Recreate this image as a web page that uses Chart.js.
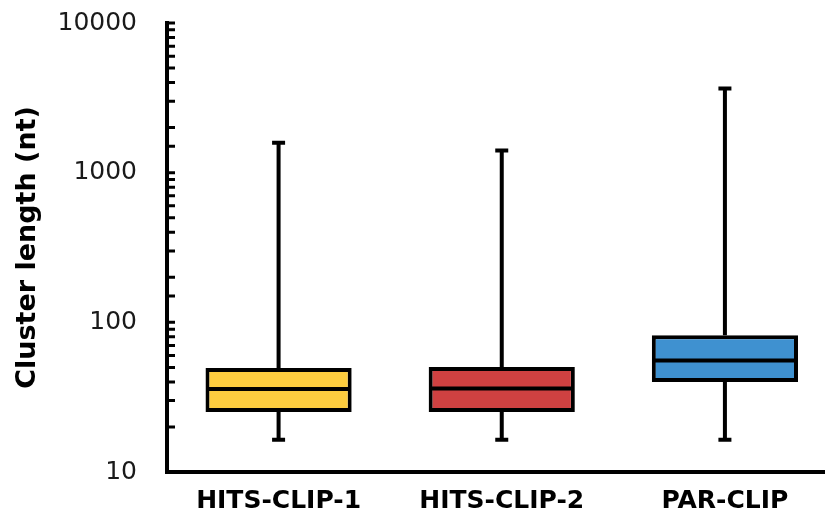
<!DOCTYPE html>
<html>
<head>
<meta charset="utf-8">
<script src="https://cdn.jsdelivr.net/npm/chart.js@4.4.1/dist/chart.umd.min.js"></script>
<style>
  html, body { margin: 0; padding: 0; background: #fff; overflow: hidden; }
  #wrap { width: 840px; height: 525px; }
</style>
</head>
<body>
<div id="wrap"><canvas id="chart" width="840" height="525"></canvas></div>
<script>
// box plot values (nt)
var categories = ['HITS-CLIP-1', 'HITS-CLIP-2', 'PAR-CLIP'];
var whiskerMin = [16.4, 16.4, 16.4];
var quartile1 = [25.2, 25.2, 40];
var medians = [35.8, 36.1, 55.5];
var quartile3 = [49.5, 50.3, 82];
var whiskerMax = [1585, 1405, 3650];
var boxColors = ['#FDCD3F', '#CF4141', '#3F91D0'];
var yTickLabels = [10, 100, 1000, 10000];

var LINE = 4;

// whiskers, caps, medians and inward axis ticks
var boxExtras = {
  id: 'boxExtras',
  afterDatasetsDraw: function (chart) {
    var ctx = chart.ctx;
    var x = chart.scales.x;
    var y = chart.scales.y;
    var meta = chart.getDatasetMeta(0);
    ctx.save();
    ctx.strokeStyle = '#000';
    ctx.lineWidth = LINE;
    ctx.lineCap = 'butt';
    for (var i = 0; i < categories.length; i++) {
      var bar = meta.data[i];
      var cx = x.getPixelForValue(i);
      var half = bar.width / 2;
      var capHalf = 6.5;
      var yMin = y.getPixelForValue(whiskerMin[i]);
      var yMax = y.getPixelForValue(whiskerMax[i]);
      var yQ1 = y.getPixelForValue(quartile1[i]);
      var yQ3 = y.getPixelForValue(quartile3[i]);
      var yMed = y.getPixelForValue(medians[i]);
      ctx.beginPath();
      ctx.moveTo(cx, yQ3); ctx.lineTo(cx, yMax);
      ctx.moveTo(cx, yQ1); ctx.lineTo(cx, yMin);
      ctx.moveTo(cx - capHalf, yMax); ctx.lineTo(cx + capHalf, yMax);
      ctx.moveTo(cx - capHalf, yMin); ctx.lineTo(cx + capHalf, yMin);
      ctx.moveTo(cx - half + 1, yMed); ctx.lineTo(cx + half - 1, yMed);
      ctx.stroke();
    }
    // ticks pointing into the plot
    var left = chart.chartArea.left;
    ctx.lineWidth = 3;
    ctx.beginPath();
    y.ticks.forEach(function (t) {
      var py = y.getPixelForValue(t.value);
      ctx.moveTo(left, py);
      ctx.lineTo(left + 8, py);
    });
    ctx.stroke();
    ctx.restore();
  }
};

new Chart(document.getElementById('chart'), {
  type: 'bar',
  data: {
    labels: categories,
    datasets: [{
      data: quartile1.map(function (q, i) { return [q, quartile3[i]]; }),
      backgroundColor: boxColors,
      borderColor: '#000',
      borderWidth: LINE,
      borderSkipped: false,
      barPercentage: 0.655,
      categoryPercentage: 1
    }]
  },
  options: {
    responsive: false,
    animation: false,
    devicePixelRatio: 1,
    layout: { padding: { top: 23, right: 3.5, bottom: 0, left: 0 } },
    plugins: { legend: { display: false }, tooltip: { enabled: false } },
    scales: {
      x: {
        grid: { display: false, drawTicks: false },
        border: { display: true, color: '#000', width: LINE },
        ticks: { color: '#000', padding: 14, font: { family: 'DejaVu Sans', size: 25, weight: 'bold' } },
        afterFit: function (s) { s.height = 53; }
      },
      y: {
        type: 'logarithmic',
        min: 10,
        max: 10000,
        grid: { display: false, drawTicks: false },
        border: { display: true, color: '#000', width: LINE },
        ticks: {
          autoSkip: false,
          color: '#1a1a1a',
          padding: 30,
          font: { family: 'DejaVu Sans', size: 25 },
          callback: function (v) {
            return yTickLabels.indexOf(v) >= 0 ? String(v) : '';
          }
        },
        title: {
          display: true,
          text: 'Cluster length (nt)',
          color: '#000',
          padding: { top: 12, bottom: 0 },
          font: { family: 'DejaVu Sans', size: 27, weight: 'bold' }
        },
        afterFit: function (s) {
          s.width = 167;
          s.paddingTop = 0;
          s.paddingBottom = 0;
        }
      }
    }
  },
  plugins: [boxExtras]
});
</script>
</body>
</html>
